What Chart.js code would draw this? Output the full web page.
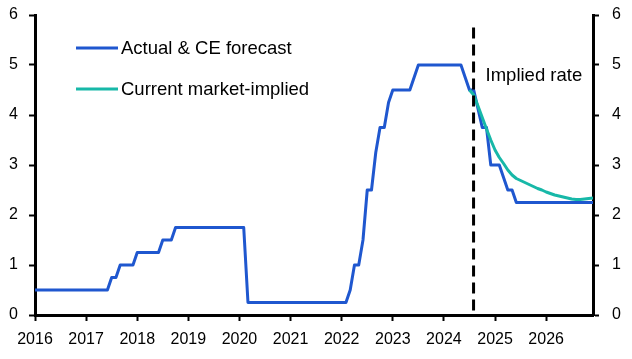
<!DOCTYPE html>
<html><head><meta charset="utf-8">
<script src="https://cdn.jsdelivr.net/npm/chart.js@4.4.1/dist/chart.umd.min.js"></script>
<style>html,body{margin:0;padding:0;background:#fff}canvas{display:block}</style>
</head><body>
<canvas id="c" width="632" height="359"></canvas>
<script>
// ---- data ----
const startYear = 2016;               // first monthly observation: Jan 2016
const endValue = 2026 + 11 / 12;      // last observation: Dec 2026
const yearTicks = [2016, 2017, 2018, 2019, 2020, 2021, 2022, 2023, 2024, 2025, 2026];
const yTicks = [0, 1, 2, 3, 4, 5, 6];
const seriesNames = ['Actual & CE forecast', 'Current market-implied'];
const markerLabel = 'Implied rate';
const markerX = 2024.58;
const markerTop = 5.75;

// monthly, Jan 2016 .. Dec 2026
const actualForecast = [
  0.5,0.5,0.5,0.5,0.5,0.5,0.5,0.5,0.5,0.5,0.5,0.5,            // 2016
  0.5,0.5,0.5,0.5,0.5,0.5,0.75,0.75,1.0,1.0,1.0,1.0,          // 2017
  1.25,1.25,1.25,1.25,1.25,1.25,1.5,1.5,1.5,1.75,1.75,1.75,   // 2018
  1.75,1.75,1.75,1.75,1.75,1.75,1.75,1.75,1.75,1.75,1.75,1.75,// 2019
  1.75,1.75,0.25,0.25,0.25,0.25,0.25,0.25,0.25,0.25,0.25,0.25,// 2020
  0.25,0.25,0.25,0.25,0.25,0.25,0.25,0.25,0.25,0.25,0.25,0.25,// 2021
  0.25,0.25,0.5,1.0,1.0,1.5,2.5,2.5,3.25,3.75,3.75,4.25,      // 2022
  4.5,4.5,4.5,4.5,4.5,4.75,5.0,5.0,5.0,5.0,5.0,5.0,           // 2023
  5.0,5.0,5.0,5.0,5.0,4.75,4.5,4.5,4.125,3.75,3.75,3.0,       // 2024
  3.0,3.0,2.75,2.5,2.5,2.25,2.25,2.25,2.25,2.25,2.25,2.25,    // 2025
  2.25,2.25,2.25,2.25,2.25,2.25,2.25,2.25,2.25,2.25,2.25,2.25 // 2026
];
// monthly, Jul 2024 .. Dec 2026
const marketImpliedStartIndex = 102; // Jul 2024
const marketImplied = [
  4.5,4.4,4.18,3.95,3.72,3.5,                   // Jul-Dec 2024
  3.3,3.15,3.03,2.9,2.8,2.73,2.69,2.65,2.61,2.57,2.53,2.5, // 2025
  2.46,2.43,2.4,2.38,2.36,2.34,2.32,2.31,2.31,2.32,2.33,2.34 // 2026
];

const monthX = i => startYear + i / 12;
const blueColor = '#1F57CF';
const tealColor = '#17B8A8';
const FONT = "'Liberation Sans', Arial, sans-serif";

const overlay = {
  id: 'overlay',
  afterDatasetsDraw(chart) {
    const ctx = chart.ctx;
    const xs = chart.scales.x, ys = chart.scales.y;
    ctx.save();
    // dashed vertical marker
    const px = xs.getPixelForValue(markerX);
    ctx.strokeStyle = '#000';
    ctx.lineWidth = 3;
    ctx.setLineDash([11, 6]);
    ctx.beginPath();
    ctx.moveTo(px, ys.getPixelForValue(markerTop));
    ctx.lineTo(px, ys.getPixelForValue(0));
    ctx.stroke();
    ctx.setLineDash([]);
    ctx.fillStyle = '#000';
    ctx.font = '18.5px ' + FONT;
    ctx.textBaseline = 'middle';
    ctx.textAlign = 'left';
    ctx.fillText(markerLabel, px + 12, 76);
    // legend
    const cols = [blueColor, tealColor];
    const rowsY = [48, 89];
    for (let k = 0; k < seriesNames.length; k++) {
      ctx.strokeStyle = cols[k];
      ctx.lineWidth = 3;
      ctx.beginPath();
      ctx.moveTo(76, rowsY[k]);
      ctx.lineTo(118, rowsY[k]);
      ctx.stroke();
      ctx.fillStyle = '#000';
      ctx.fillText(seriesNames[k], 121, rowsY[k] + 1);
    }
    ctx.restore();
  }
};

const axisGrid = {drawOnChartArea: false, drawTicks: true, tickLength: 6, tickWidth: 2, tickColor: '#000'};
const axisBorder = {display: true, color: '#000', width: 3};
const tickFont = {family: FONT, size: 16};
const fixY = w => a => { a.width = w; a.paddingTop = 0; a.paddingBottom = 0; };

new Chart(document.getElementById('c'), {
  type: 'line',
  data: {
    datasets: [
      {
        label: seriesNames[1],
        data: marketImplied.map((v, i) => ({x: monthX(marketImpliedStartIndex + i), y: v})),
        borderColor: tealColor, borderWidth: 3, pointRadius: 0, tension: 0,
        borderJoinStyle: 'round', yAxisID: 'y', order: 1
      },
      {
        label: seriesNames[0],
        data: actualForecast.map((v, i) => ({x: monthX(i), y: v})),
        borderColor: blueColor, borderWidth: 3, pointRadius: 0, tension: 0,
        borderJoinStyle: 'round', yAxisID: 'y', order: 2
      }
    ]
  },
  options: {
    responsive: false,
    animation: false,
    devicePixelRatio: 1,
    layout: {padding: {top: 15, left: 0, right: 0, bottom: 0}},
    plugins: {legend: {display: false}, tooltip: {enabled: false}},
    scales: {
      x: {
        type: 'linear', min: startYear, max: endValue,
        afterBuildTicks: a => { a.ticks = yearTicks.map(v => ({value: v})); },
        afterFit: a => { a.height = 44; a.paddingLeft = 0; a.paddingRight = 0; },
        ticks: {callback: v => String(v), font: tickFont, color: '#000', padding: 9, maxRotation: 0, autoSkip: false},
        grid: axisGrid, border: axisBorder
      },
      y: {
        position: 'left', min: 0, max: 6,
        afterBuildTicks: a => { a.ticks = yTicks.map(v => ({value: v})); },
        afterFit: fixY(35),
        ticks: {font: tickFont, color: '#000', padding: 11},
        grid: axisGrid, border: axisBorder
      },
      y2: {
        position: 'right', min: 0, max: 6,
        afterBuildTicks: a => { a.ticks = yTicks.map(v => ({value: v})); },
        afterFit: fixY(39),
        ticks: {font: tickFont, color: '#000', padding: 13},
        grid: axisGrid, border: axisBorder
      }
    }
  },
  plugins: [overlay]
});
</script>
</body></html>
